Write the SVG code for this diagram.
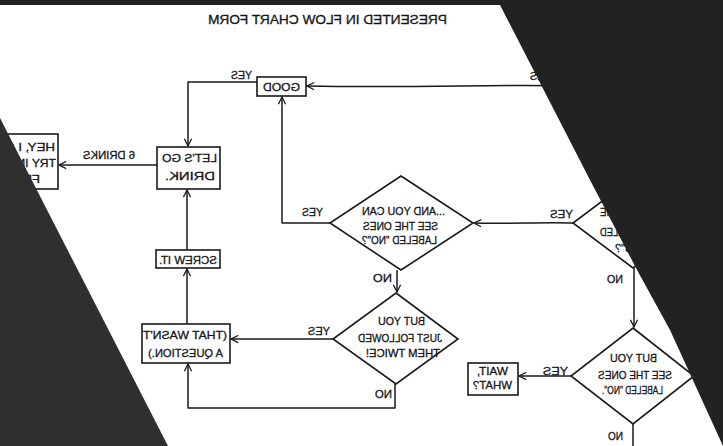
<svg xmlns="http://www.w3.org/2000/svg" width="723" height="446" viewBox="0 0 723 446">
<defs>
<style>
.bg{fill:#fff}
.box{fill:#fff;stroke:#1a1a1a;stroke-width:1.6}
.ln{fill:none;stroke:#1a1a1a;stroke-width:1.5;stroke-linejoin:round}
.t{font-family:"Liberation Sans",Arial,sans-serif;font-size:11.5px;fill:#151515;stroke:#151515;stroke-width:0.3;text-anchor:middle}
.s{text-anchor:start}
.e{text-anchor:end}
.ti{font-size:13px}
.dark{fill:#222}
.dark2{fill:#2f2f2f}
</style>
<marker id="ah" viewBox="0 0 10 10" refX="9" refY="5" markerWidth="9" markerHeight="9" orient="auto" markerUnits="userSpaceOnUse">
<path d="M1,1 L9,5 L1,9" fill="none" stroke="#1a1a1a" stroke-width="1.4"/>
</marker>
</defs>
<rect class="bg" x="0" y="0" width="723" height="446"/>

<g id="title">
<text class="t ti" transform="scale(-1,1)" x="-327.5" y="24" textLength="239" lengthAdjust="spacingAndGlyphs">PRESENTED  IN FLOW CHART FORM</text>
</g>

<g id="connectors">
<path class="ln" d="M257,82 H188 V146" marker-end="url(#ah)"/>
<path class="ln" d="M570,86 C500,84 420,88 307,86" marker-end="url(#ah)"/>
<path class="ln" d="M330,223 H282 V97" marker-end="url(#ah)"/>
<path class="ln" d="M574,223 C540,222 510,224 474,223" marker-end="url(#ah)"/>
<path class="ln" d="M634,268 V327" marker-end="url(#ah)"/>
<path class="ln" d="M397,270 V292" marker-end="url(#ah)"/>
<path class="ln" d="M333,339 H231" marker-end="url(#ah)"/>
<path class="ln" d="M395,384 V408 H188 V364" marker-end="url(#ah)"/>
<path class="ln" d="M187,324 V269" marker-end="url(#ah)"/>
<path class="ln" d="M187,250 V190" marker-end="url(#ah)"/>
<path class="ln" d="M157,165 H59" marker-end="url(#ah)"/>
<path class="ln" d="M571,376 H519" marker-end="url(#ah)"/>
<path class="ln" d="M633,424 V446"/>
<text class="t" transform="scale(-1,1)" x="-241.5" y="79" textLength="21" lengthAdjust="spacingAndGlyphs">YES</text>
<text class="t e" transform="scale(-1,1)" x="-530" y="80" textLength="22" lengthAdjust="spacingAndGlyphs">YES</text>
<text class="t" transform="scale(-1,1)" x="-312.5" y="216" textLength="21" lengthAdjust="spacingAndGlyphs">YES</text>
<text class="t" transform="scale(-1,1)" x="-561.5" y="218" textLength="23" lengthAdjust="spacingAndGlyphs">YES</text>
<text class="t" transform="scale(-1,1)" x="-319" y="335" textLength="22" lengthAdjust="spacingAndGlyphs">YES</text>
<text class="t" transform="scale(-1,1)" x="-555.5" y="375" textLength="25" lengthAdjust="spacingAndGlyphs">YES</text>
<text class="t" transform="scale(-1,1)" x="-382.5" y="282" textLength="19" lengthAdjust="spacingAndGlyphs">NO</text>
<text class="t" transform="scale(-1,1)" x="-383.5" y="398" textLength="17" lengthAdjust="spacingAndGlyphs">NO</text>
<text class="t" transform="scale(-1,1)" x="-615" y="283" textLength="16" lengthAdjust="spacingAndGlyphs">NO</text>
<text class="t" transform="scale(-1,1)" x="-615.5" y="440" textLength="15" lengthAdjust="spacingAndGlyphs">NO</text>
<text class="t" transform="scale(-1,1)" x="-109" y="159" textLength="52" lengthAdjust="spacingAndGlyphs">6 DRINKS</text>
</g>

<g id="good">
<rect class="box" x="257" y="77" width="49" height="19"/>
<text class="t" transform="scale(-1,1)" x="-281.5" y="91" textLength="37" lengthAdjust="spacingAndGlyphs">GOOD</text>
</g>

<g id="you-see-yes">
<polygon class="box" points="633,178 693,223 633,268 573,223"/>
<text class="t" transform="scale(-1,1)" x="-633" y="216" textLength="66" lengthAdjust="spacingAndGlyphs">YOU SEE THE</text>
<text class="t" transform="scale(-1,1)" x="-633" y="236" textLength="66" lengthAdjust="spacingAndGlyphs">LINE LABELED</text>
<text class="t" transform="scale(-1,1)" x="-633" y="252" textLength="36" lengthAdjust="spacingAndGlyphs">"YES"?</text>
</g>

<g id="and-you-can">
<polygon class="box" points="401,176 473,223 401,270 330,223"/>
<text class="t" transform="scale(-1,1)" x="-403.5" y="215" textLength="83" lengthAdjust="spacingAndGlyphs">...AND YOU CAN</text>
<text class="t" transform="scale(-1,1)" x="-400.5" y="230" textLength="75" lengthAdjust="spacingAndGlyphs">SEE THE ONES</text>
<text class="t" transform="scale(-1,1)" x="-399.5" y="244" textLength="75" lengthAdjust="spacingAndGlyphs">LABELED "NO"?</text>
</g>

<g id="followed-twice">
<polygon class="box" points="396,293 458,339 396,384 333,339"/>
<text class="t" transform="scale(-1,1)" x="-401.5" y="325" textLength="47" lengthAdjust="spacingAndGlyphs">BUT YOU</text>
<text class="t" transform="scale(-1,1)" x="-400" y="342" textLength="84" lengthAdjust="spacingAndGlyphs">JUST FOLLOWED</text>
<text class="t" transform="scale(-1,1)" x="-403" y="357" textLength="74" lengthAdjust="spacingAndGlyphs">THEM TWICE!</text>
</g>

<g id="see-no">
<polygon class="box" points="633,328 694,376 633,424 571,376"/>
<text class="t" transform="scale(-1,1)" x="-633.5" y="362" textLength="47" lengthAdjust="spacingAndGlyphs">BUT YOU</text>
<text class="t" transform="scale(-1,1)" x="-635" y="379" textLength="74" lengthAdjust="spacingAndGlyphs">SEE THE ONES</text>
<text class="t" transform="scale(-1,1)" x="-632.5" y="394" textLength="61" lengthAdjust="spacingAndGlyphs">LABELED "NO".</text>
</g>

<g id="wait-what">
<rect class="box" x="468" y="363" width="50" height="32"/>
<text class="t" transform="scale(-1,1)" x="-492.5" y="375" textLength="31" lengthAdjust="spacingAndGlyphs">WAIT,</text>
<text class="t" transform="scale(-1,1)" x="-492.5" y="389" textLength="39" lengthAdjust="spacingAndGlyphs">WHAT?</text>
</g>

<g id="not-question">
<rect class="box" x="142" y="324" width="88" height="39"/>
<text class="t" transform="scale(-1,1)" x="-185" y="339" textLength="84" lengthAdjust="spacingAndGlyphs">(THAT WASN'T</text>
<text class="t" transform="scale(-1,1)" x="-185.5" y="357" textLength="75" lengthAdjust="spacingAndGlyphs">A QUESTION.)</text>
</g>

<g id="screw-it">
<rect class="box" x="156" y="250" width="64" height="18"/>
<text class="t" transform="scale(-1,1)" x="-188" y="264" textLength="58" lengthAdjust="spacingAndGlyphs">SCREW IT.</text>
</g>

<g id="lets-go-drink">
<rect class="box" x="157" y="147" width="63" height="42"/>
<text class="t" transform="scale(-1,1)" x="-189.5" y="162" textLength="55" lengthAdjust="spacingAndGlyphs">LET'S GO</text>
<text class="t" transform="scale(-1,1)" x="-190" y="180" textLength="50" lengthAdjust="spacingAndGlyphs">DRINK.</text>
</g>

<g id="freebsd">
<rect class="box" x="-44" y="134" width="102" height="55"/>
<text class="t" transform="scale(-1,1)" x="-7" y="151" textLength="96" lengthAdjust="spacingAndGlyphs">HEY, I SHOULD</text>
<text class="t" transform="scale(-1,1)" x="-7" y="167" textLength="98" lengthAdjust="spacingAndGlyphs">TRY INSTALLING</text>
<text class="t" transform="scale(-1,1)" x="-7" y="183" textLength="66" lengthAdjust="spacingAndGlyphs">FREEBSD!</text>
</g>

<g id="overlays">
<path class="dark" d="M0,0 H723 V446 L670,330 L636,268 L590,180 L500,5 H0 Z"/>
<polygon class="dark2" points="0,118 168,446 0,446"/>
</g>
</svg>
